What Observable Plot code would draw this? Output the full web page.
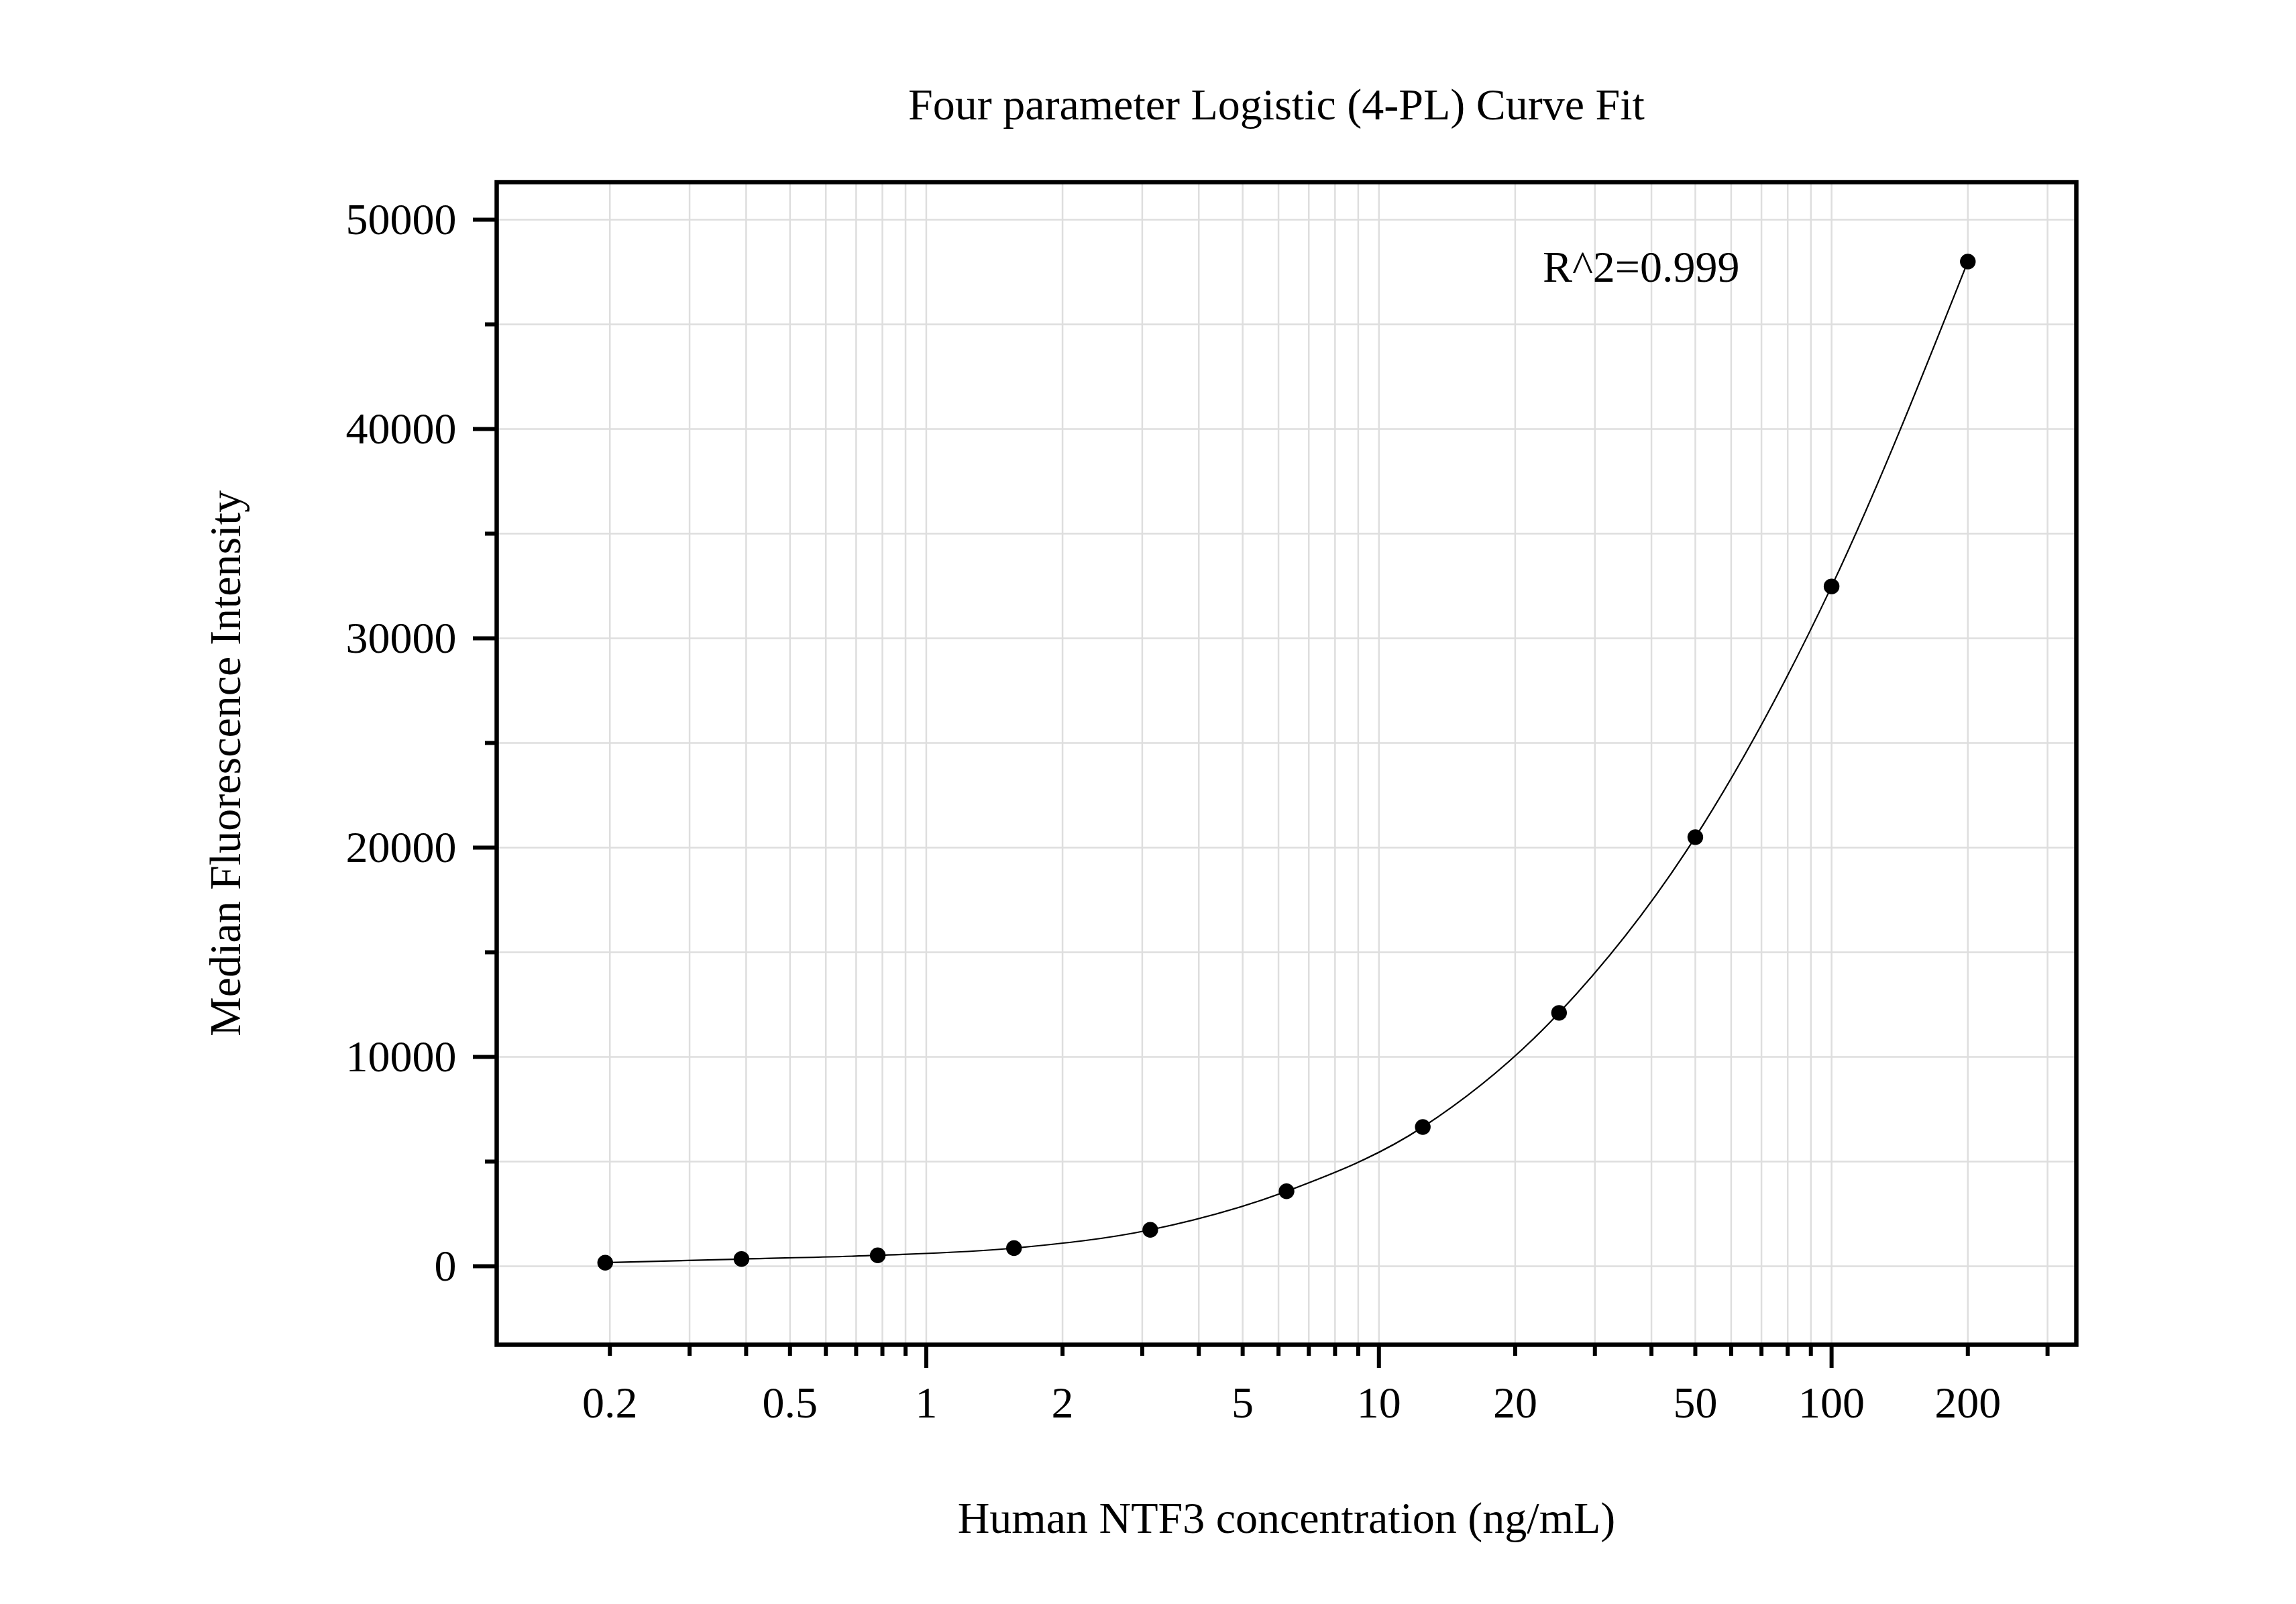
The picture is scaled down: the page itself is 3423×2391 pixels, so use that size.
<!DOCTYPE html>
<html>
<head>
<meta charset="utf-8">
<script src="https://cdn.jsdelivr.net/npm/d3@7"></script>
<script src="https://cdn.jsdelivr.net/npm/@observablehq/plot@0.6"></script>
<style>
  html, body { margin: 0; padding: 0; background: #ffffff; }
  #wrap { position: relative; width: 3423px; height: 2391px; background: #ffffff; }
  #title {
    position: relative; height: 200px; width: 3423px;
  }
  #title span {
    position: absolute; left: 0; width: 3806px; top: 122.7px;
    text-align: center; font-family: "Liberation Serif", "Times New Roman", serif;
    font-size: 66px; line-height: 66px; color: #000;
  }
</style>
</head>
<body>
<div id="wrap">
  <div id="title"><span id="titleText"></span></div>
  <div id="chart"></div>
</div>
<script>
// ---- data ----
const titleText = "Four parameter Logistic (4-PL) Curve Fit";
const xLabel = "Human NTF3 concentration (ng/mL)";
const yLabel = "Median Fluorescence Intensity";

const conc = [0.1953125, 0.390625, 0.78125, 1.5625, 3.125, 6.25, 12.5, 25, 50, 100, 200];
const mfi  = [170, 343, 522, 865, 1740, 3580, 6650, 12105, 20500, 32480, 48000];

const xMajorTicks = [1, 10, 100];
const xMinorTicks = [0.2, 0.3, 0.4, 0.5, 0.6, 0.7, 0.8, 0.9, 2, 3, 4, 5, 6, 7, 8, 9, 20, 30, 40, 50, 60, 70, 80, 90, 200, 300];
const xTickLabels = [0.2, 0.5, 1, 2, 5, 10, 20, 50, 100, 200];
const yMajorTicks = [0, 10000, 20000, 30000, 40000, 50000];
const yMinorTicks = [5000, 15000, 25000, 35000, 45000];
const xDomain = [0.11246, 347.3];
const yDomain = [-3750, 51795];

const annotations = [{x: 23, y: 47050, label: "R^2=0.999"}];

// ---- build ----
document.getElementById("titleText").textContent = titleText;

const points = conc.map((c, i) => ({conc: c, mfi: mfi[i]}));
const xGrid = [...xMinorTicks, ...xMajorTicks].sort((a, b) => a - b);
const yGrid = [...yMajorTicks, ...yMinorTicks].sort((a, b) => a - b);

const gridColor = "#dedede";
const fmt = (d) => String(d);

const chart = Plot.plot({
  width: 3423,
  height: 2191,
  marginLeft: 740,
  marginRight: 328,
  marginTop: 71,
  marginBottom: 387,
  style: {
    fontFamily: "'Liberation Serif', 'Times New Roman', serif",
    fontSize: "66px",
    background: "#ffffff",
    color: "#000000",
    overflow: "visible"
  },
  x: {type: "log", domain: xDomain},
  y: {domain: yDomain},
  marks: [
    Plot.gridX(xGrid, {stroke: gridColor, strokeOpacity: 1, strokeWidth: 2.5}),
    Plot.gridY(yGrid, {stroke: gridColor, strokeOpacity: 1, strokeWidth: 2.5}),
    Plot.line(points, {x: "conc", y: "mfi", curve: "monotone-x", stroke: "#000", strokeWidth: 2.2}),
    Plot.dot(points, {x: "conc", y: "mfi", r: 11.7, fill: "#000", stroke: "none"}),
    Plot.frame({stroke: "#000", strokeWidth: 6.5}),
    // x ticks
    Plot.axisX(xMajorTicks, {anchor: "bottom", tickSize: 35, strokeWidth: 6, tickFormat: () => "", label: null}),
    Plot.axisX(xMinorTicks, {anchor: "bottom", tickSize: 17, strokeWidth: 6, tickFormat: () => "", label: null}),
    Plot.axisX(xTickLabels, {anchor: "bottom", tickSize: 0, tickPadding: 62, tickFormat: fmt, label: null, fontSize: 66, fontVariant: "normal"}),
    // y ticks
    Plot.axisY(yMajorTicks, {anchor: "left", tickSize: 35, strokeWidth: 6, tickFormat: () => "", label: null}),
    Plot.axisY(yMinorTicks, {anchor: "left", tickSize: 17, strokeWidth: 6, tickFormat: () => "", label: null}),
    Plot.axisY(yMajorTicks, {anchor: "left", tickSize: 0, tickPadding: 60, tickFormat: fmt, label: null, fontSize: 66, fontVariant: "normal"}),
    // annotation
    Plot.text(annotations, {x: "x", y: "y", text: "label", textAnchor: "start", lineAnchor: "bottom", fontSize: 66, fill: "#000"}),
    // axis titles
    Plot.text([yLabel], {text: (d) => d, frameAnchor: "left", dx: -383, rotate: -90, lineAnchor: "bottom", textAnchor: "middle", fontSize: 66, fill: "#000"}),
    Plot.text([xLabel], {text: (d) => d, frameAnchor: "bottom", dy: 280, lineAnchor: "bottom", textAnchor: "middle", fontSize: 66, fill: "#000"})
  ]
});
document.getElementById("chart").appendChild(chart);
</script>
</body>
</html>
